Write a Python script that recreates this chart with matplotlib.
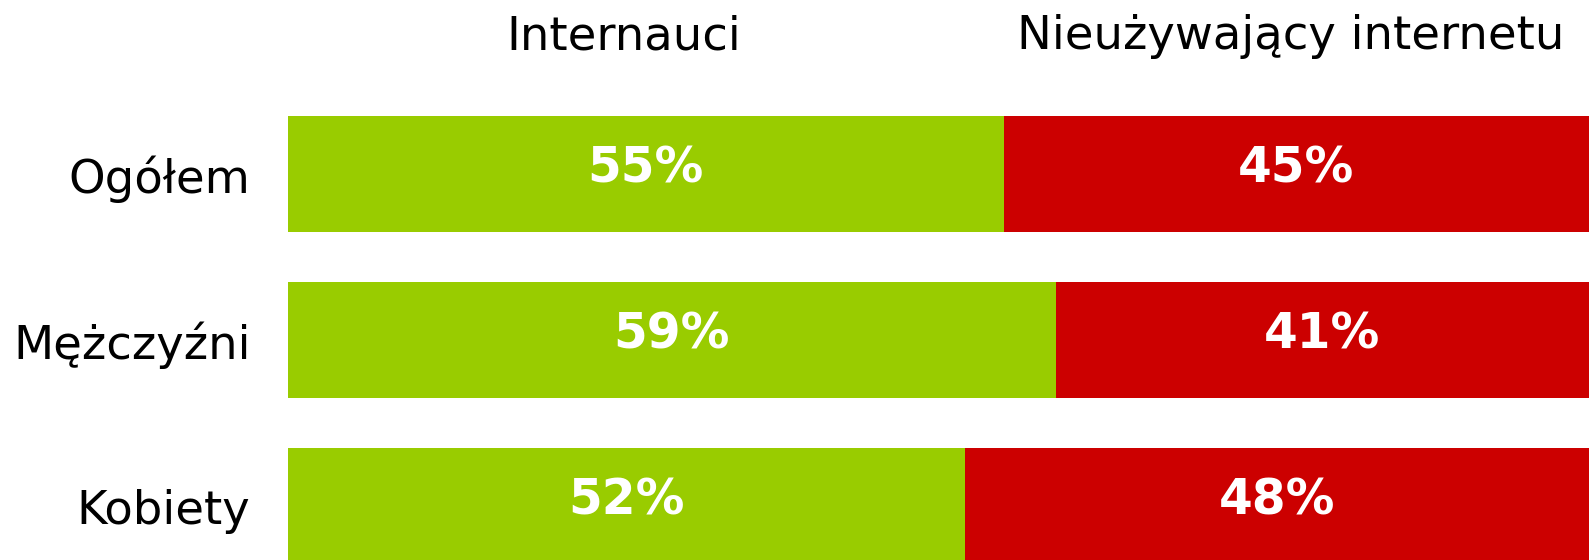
import numpy as np
import matplotlib
matplotlib.use("Agg")
import matplotlib.pyplot as plt

categories = ["Ogółem", "Mężczyźni", "Kobiety"]
internauci = [55, 59, 52]
nieuzywajacy = [45, 41, 48]
series_names = ["Internauci", "Nieużywający internetu"]

GREEN = "#99CC00"
RED = "#CC0000"

plt.rcParams['font.family'] = ['DejaVu Sans']

fig = plt.figure(figsize=(15.89, 5.60), dpi=100)
ax = fig.add_axes([288 / 1589, 0, 1 - 288 / 1589, 1])

y = np.arange(len(categories))
left = np.array(internauci)
ax.barh(y, internauci, height=0.7, color=GREEN)
ax.barh(y, nieuzywajacy, left=left, height=0.7, color=RED)

# percent labels sit a little above the bar middle
for i in range(len(categories)):
    ax.text(internauci[i] / 2, y[i] - 0.035, f"{internauci[i]}%", ha='center', va='center',
            color='white', fontsize=35, fontweight='bold')
    ax.text(internauci[i] + nieuzywajacy[i] / 2, y[i] - 0.035, f"{nieuzywajacy[i]}%",
            ha='center', va='center', color='white', fontsize=35, fontweight='bold')

ax.set_xlim(0, 100)
ax.set_ylim(2.325, -1.048)
ax.set_yticks(y)
ax.set_yticklabels(categories, fontsize=33.5)
ax.tick_params(axis='y', length=0, pad=27)
ax.set_xticks([])
for s in ax.spines.values():
    s.set_visible(False)

fig.text(624 / 1589, 1 - 49 / 560, series_names[0], ha='center', va='baseline', fontsize=33.5)
fig.text(1291 / 1589, 1 - 49 / 560, series_names[1], ha='center', va='baseline', fontsize=33.5)

fig.savefig("out.png", dpi=100)
